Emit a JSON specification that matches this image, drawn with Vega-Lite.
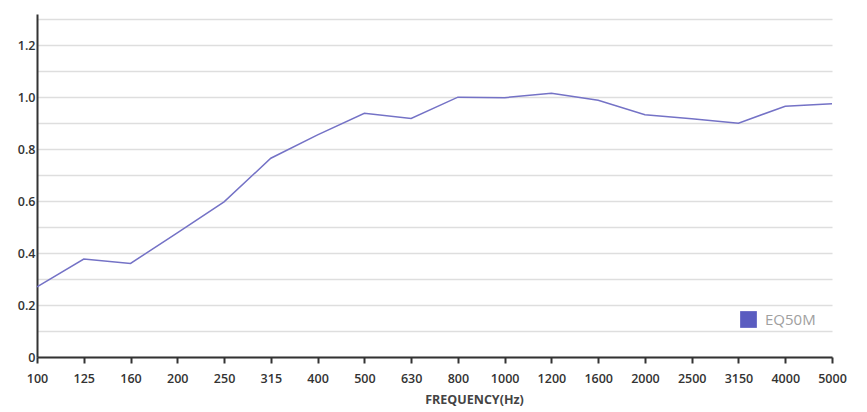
{
  "$schema": "https://vega.github.io/schema/vega-lite/v6.json",
  "autosize": "none",
  "width": 795,
  "height": 343,
  "padding": {"left": 37, "top": 14, "right": 35, "bottom": 55},
  "background": "white",
  "config": {
    "view": {"stroke": null},
    "font": "Open Sans"
  },
  "data": {
    "values": [
      {"freq": "100", "value": 0.27, "series": "EQ50M"},
      {"freq": "125", "value": 0.377, "series": "EQ50M"},
      {"freq": "160", "value": 0.36, "series": "EQ50M"},
      {"freq": "200", "value": 0.478, "series": "EQ50M"},
      {"freq": "250", "value": 0.597, "series": "EQ50M"},
      {"freq": "315", "value": 0.765, "series": "EQ50M"},
      {"freq": "400", "value": 0.855, "series": "EQ50M"},
      {"freq": "500", "value": 0.938, "series": "EQ50M"},
      {"freq": "630", "value": 0.918, "series": "EQ50M"},
      {"freq": "800", "value": 1.0, "series": "EQ50M"},
      {"freq": "1000", "value": 0.998, "series": "EQ50M"},
      {"freq": "1200", "value": 1.015, "series": "EQ50M"},
      {"freq": "1600", "value": 0.988, "series": "EQ50M"},
      {"freq": "2000", "value": 0.932, "series": "EQ50M"},
      {"freq": "2500", "value": 0.917, "series": "EQ50M"},
      {"freq": "3150", "value": 0.9, "series": "EQ50M"},
      {"freq": "4000", "value": 0.965, "series": "EQ50M"},
      {"freq": "5000", "value": 0.975, "series": "EQ50M"}
    ]
  },
  "mark": {"type": "line", "strokeWidth": 1.5},
  "encoding": {
    "x": {
      "field": "freq",
      "type": "ordinal",
      "sort": null,
      "scale": {"type": "point", "padding": 0},
      "axis": {
        "title": "FREQUENCY(Hz)",
        "titleFontSize": 12.5,
        "titleFontWeight": "bold",
        "titleColor": "#444",
        "titleX": 437,
        "titlePadding": 9,
        "labelAngle": 0,
        "labelFontSize": 12.5,
        "labelFontWeight": 600,
        "labelColor": "#333",
        "labelPadding": 9,
        "domainColor": "#333",
        "domainWidth": 2,
        "tickColor": "#333",
        "tickWidth": 2,
        "tickSize": 6,
        "grid": false
      }
    },
    "y": {
      "field": "value",
      "type": "quantitative",
      "scale": {"domain": [0, 1.32], "nice": false},
      "axis": {
        "title": null,
        "values": [0, 0.1, 0.2, 0.3, 0.4, 0.5, 0.6, 0.7, 0.8, 0.9, 1.0, 1.1, 1.2, 1.3],
        "labelExpr": "datum.value == 0 ? '0' : (round(datum.value * 10) % 2 == 0 ? format(datum.value, '.1f') : '')",
        "labelFontSize": 12.5,
        "labelFontWeight": 600,
        "labelColor": "#333",
        "labelPadding": 2,
        "ticks": false,
        "domainColor": "#333",
        "domainWidth": 2,
        "grid": true,
        "gridColor": "#dedede",
        "gridWidth": 1.5
      }
    },
    "color": {
      "field": "series",
      "type": "nominal",
      "scale": {"range": ["#7472c6"]},
      "legend": {
        "title": null,
        "orient": "none",
        "legendX": 703,
        "legendY": 297,
        "padding": 0,
        "symbolType": "square",
        "symbolSize": 280,
        "symbolFillColor": "#5a5cc0",
        "symbolStrokeWidth": 0,
        "labelOffset": 8,
        "labelFontSize": 15,
        "labelColor": "#a0a0a0",
        "labelFont": "Open Sans"
      }
    }
  }
}
